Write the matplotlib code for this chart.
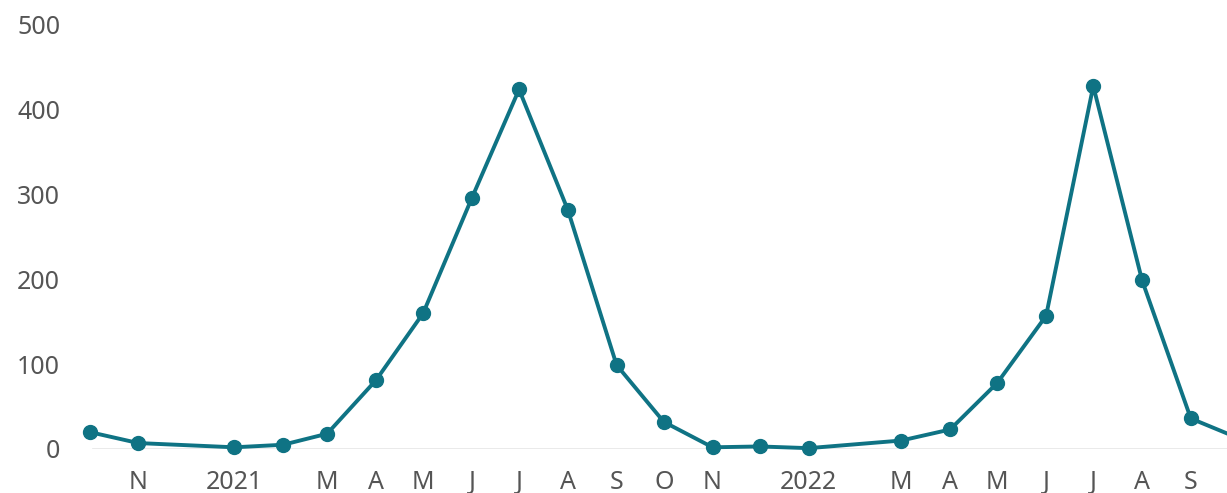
import numpy as np
import pandas as pd
import matplotlib
matplotlib.use("Agg")
import matplotlib.pyplot as plt

# monthly values (Dec 2020 and Feb 2022 have no point)
dates = ["2020-10-01", "2020-11-01", "2021-01-01", "2021-02-01", "2021-03-01",
         "2021-04-01", "2021-05-01", "2021-06-01", "2021-07-01", "2021-08-01",
         "2021-09-01", "2021-10-01", "2021-11-01", "2021-12-01", "2022-01-01",
         "2022-03-01", "2022-04-01", "2022-05-01", "2022-06-01", "2022-07-01",
         "2022-08-01", "2022-09-01", "2022-10-01"]
values = [20, 7, 2, 5, 18, 81, 160, 296, 424, 282, 99, 32, 2, 3, 1,
          10, 23, 78, 157, 428, 199, 36, 13]

tick_dates = pd.date_range("2020-11-01", "2022-09-01", freq="MS")
tick_labels = ["N", "", "2021", "", "M", "A", "M", "J", "J", "A", "S", "O", "N", "",
               "2022", "", "M", "A", "M", "J", "J", "A", "S"]
y_ticks = [0, 100, 200, 300, 400, 500]

plt.rcParams['font.family'] = ['Noto Sans', 'DejaVu Sans']
teal = "#0f7384"
grey = "#555555"

fig = plt.figure(figsize=(12.27, 4.93), dpi=100)
ax = fig.add_axes([88 / 1227, 1 - 449 / 493, 1 - 88 / 1227, (449 - 25) / 493])

x = pd.to_datetime(dates)
ax.plot(x, values, color=teal, linewidth=2.8, marker="o", markersize=10,
        clip_on=False, zorder=3)

ax.axhline(0, color="#e6e6e6", linewidth=1.2, zorder=1,
           xmin=5 / 1139)

ax.set_xlim(pd.Timestamp("2020-09-30"), pd.Timestamp("2022-09-24"))
ax.set_ylim(0, 500)
ax.set_yticks(y_ticks)
ax.set_yticklabels([str(v) for v in y_ticks])
ax.set_xticks(tick_dates)
ax.set_xticklabels(tick_labels)

ax.tick_params(axis="both", length=0, labelsize=18, colors=grey)
ax.tick_params(axis="x", pad=15)
ax.tick_params(axis="y", pad=20)
for s in ax.spines.values():
    s.set_visible(False)

fig.savefig("out.png", dpi=100)
